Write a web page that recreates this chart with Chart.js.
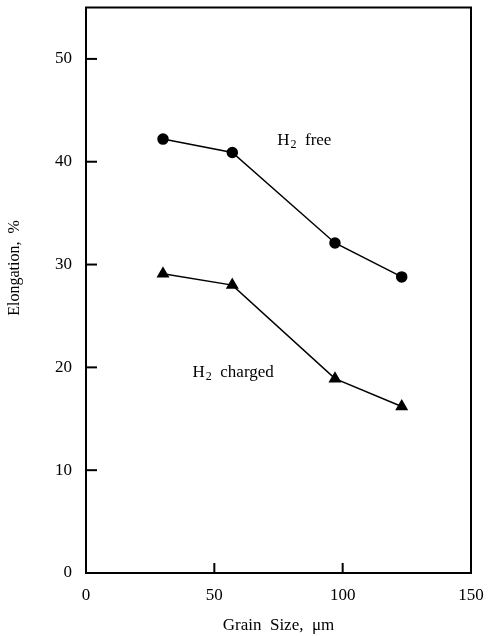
<!DOCTYPE html>
<html>
<head>
<meta charset="utf-8">
<script src="https://cdn.jsdelivr.net/npm/chart.js@4"></script>
<style>
  html, body { margin: 0; padding: 0; background: #fff; }
  #wrap { width: 489px; height: 636px; }
</style>
</head>
<body>
<div id="wrap"><canvas id="grainChart" width="489" height="636"></canvas></div>
<script>
// grain size (um) and elongation (%)
const freeGrain = [30, 57, 97, 123];
const freeElong = [42.2, 40.9, 32.1, 28.8];
const chargedGrain = [30, 57, 97, 123];
const chargedElong = [29.1, 28.0, 18.9, 16.2];

const xTicks = [0, 50, 100, 150];
const yTicks = [0, 10, 20, 30, 40, 50];

// curve labels: [text, subscript, rest, x, y] in data units
const curveLabels = [
    ["H", "2", "  free", 74.5, 41.6],
    ["H", "2", "  charged", 41.5, 19.1]
];

const serif = "'Liberation Serif', 'DejaVu Serif', serif";

function toPoints(xs, ys) {
    return xs.map((x, i) => ({ x: x, y: ys[i] }));
}

// frame, inward tick marks, y title and the curve labels
const framePlugin = {
    id: "frame",
    afterDraw(chart) {
        const ctx = chart.ctx;
        const a = chart.chartArea;
        const xs = chart.scales.x;
        const ys = chart.scales.y;
        ctx.save();
        ctx.strokeStyle = "#000";
        ctx.lineWidth = 2;
        ctx.strokeRect(a.left, a.top, a.right - a.left, a.bottom - a.top);

        xs.ticks.forEach(t => {
            const px = xs.getPixelForValue(t.value);
            if (px <= a.left + 1 || px >= a.right - 1) return;
            ctx.beginPath();
            ctx.moveTo(px, a.bottom);
            ctx.lineTo(px, a.bottom - 10);
            ctx.stroke();
        });
        ys.ticks.forEach(t => {
            const py = ys.getPixelForValue(t.value);
            if (py >= a.bottom - 1) return;
            ctx.beginPath();
            ctx.moveTo(a.left, py);
            ctx.lineTo(a.left + 11, py);
            ctx.stroke();
        });

        ctx.fillStyle = "#000";
        ctx.textBaseline = "alphabetic";
        curveLabels.forEach(l => {
            let px = xs.getPixelForValue(l[3]);
            const py = ys.getPixelForValue(l[4]);
            ctx.font = "17px " + serif;
            ctx.fillText(l[0], px, py);
            px += ctx.measureText(l[0]).width;
            ctx.font = "12px " + serif;
            ctx.fillText(l[1], px + 1, py + 3);
            px += ctx.measureText(l[1]).width + 1;
            ctx.font = "17px " + serif;
            ctx.fillText(l[2], px, py);
        });

        // rotated y axis title
        ctx.translate(15, 268);
        ctx.rotate(-Math.PI / 2);
        ctx.font = "16px " + serif;
        ctx.textAlign = "center";
        ctx.textBaseline = "middle";
        ctx.fillText("Elongation,  %", 0, 0);
        ctx.restore();
    }
};

const ctx = document.getElementById("grainChart").getContext("2d");

new Chart(ctx, {
    type: "scatter",
    data: {
        datasets: [{
            label: "H2 free",
            data: toPoints(freeGrain, freeElong),
            showLine: true,
            borderColor: "#000",
            backgroundColor: "#000",
            borderWidth: 1.5,
            pointStyle: "circle",
            pointRadius: 5,
            pointHoverRadius: 5
        }, {
            label: "H2 charged",
            data: toPoints(chargedGrain, chargedElong),
            showLine: true,
            borderColor: "#000",
            backgroundColor: "#000",
            borderWidth: 1.5,
            pointStyle: "triangle",
            pointRadius: 6,
            pointHoverRadius: 6
        }]
    },
    options: {
        responsive: false,
        animation: false,
        layout: { padding: { top: 7, right: 18, left: 0, bottom: 0 } },
        plugins: {
            legend: { display: false },
            tooltip: { enabled: false }
        },
        scales: {
            x: {
                type: "linear",
                min: 0,
                max: 150,
                afterBuildTicks: s => { s.ticks = xTicks.map(v => ({ value: v })); },
                afterFit: s => { s.height = 63; s.paddingLeft = 0; s.paddingRight = 0; },
                grid: { display: false, drawTicks: false },
                border: { display: false },
                ticks: { color: "#000", padding: 12, font: { family: serif, size: 17 } },
                title: {
                    display: true,
                    text: "Grain  Size,  μm",
                    color: "#000",
                    font: { family: serif, size: 17 },
                    padding: { top: 10, bottom: 0 }
                }
            },
            y: {
                type: "linear",
                min: 0,
                max: 55,
                afterBuildTicks: s => { s.ticks = yTicks.map(v => ({ value: v })); },
                afterFit: s => { s.width = 86; s.paddingTop = 0; s.paddingBottom = 0; },
                grid: { display: false, drawTicks: false },
                border: { display: false },
                ticks: { color: "#000", padding: 14, font: { family: serif, size: 17 } },
                title: { display: false }
            }
        }
    },
    plugins: [framePlugin]
});
</script>
</body>
</html>
